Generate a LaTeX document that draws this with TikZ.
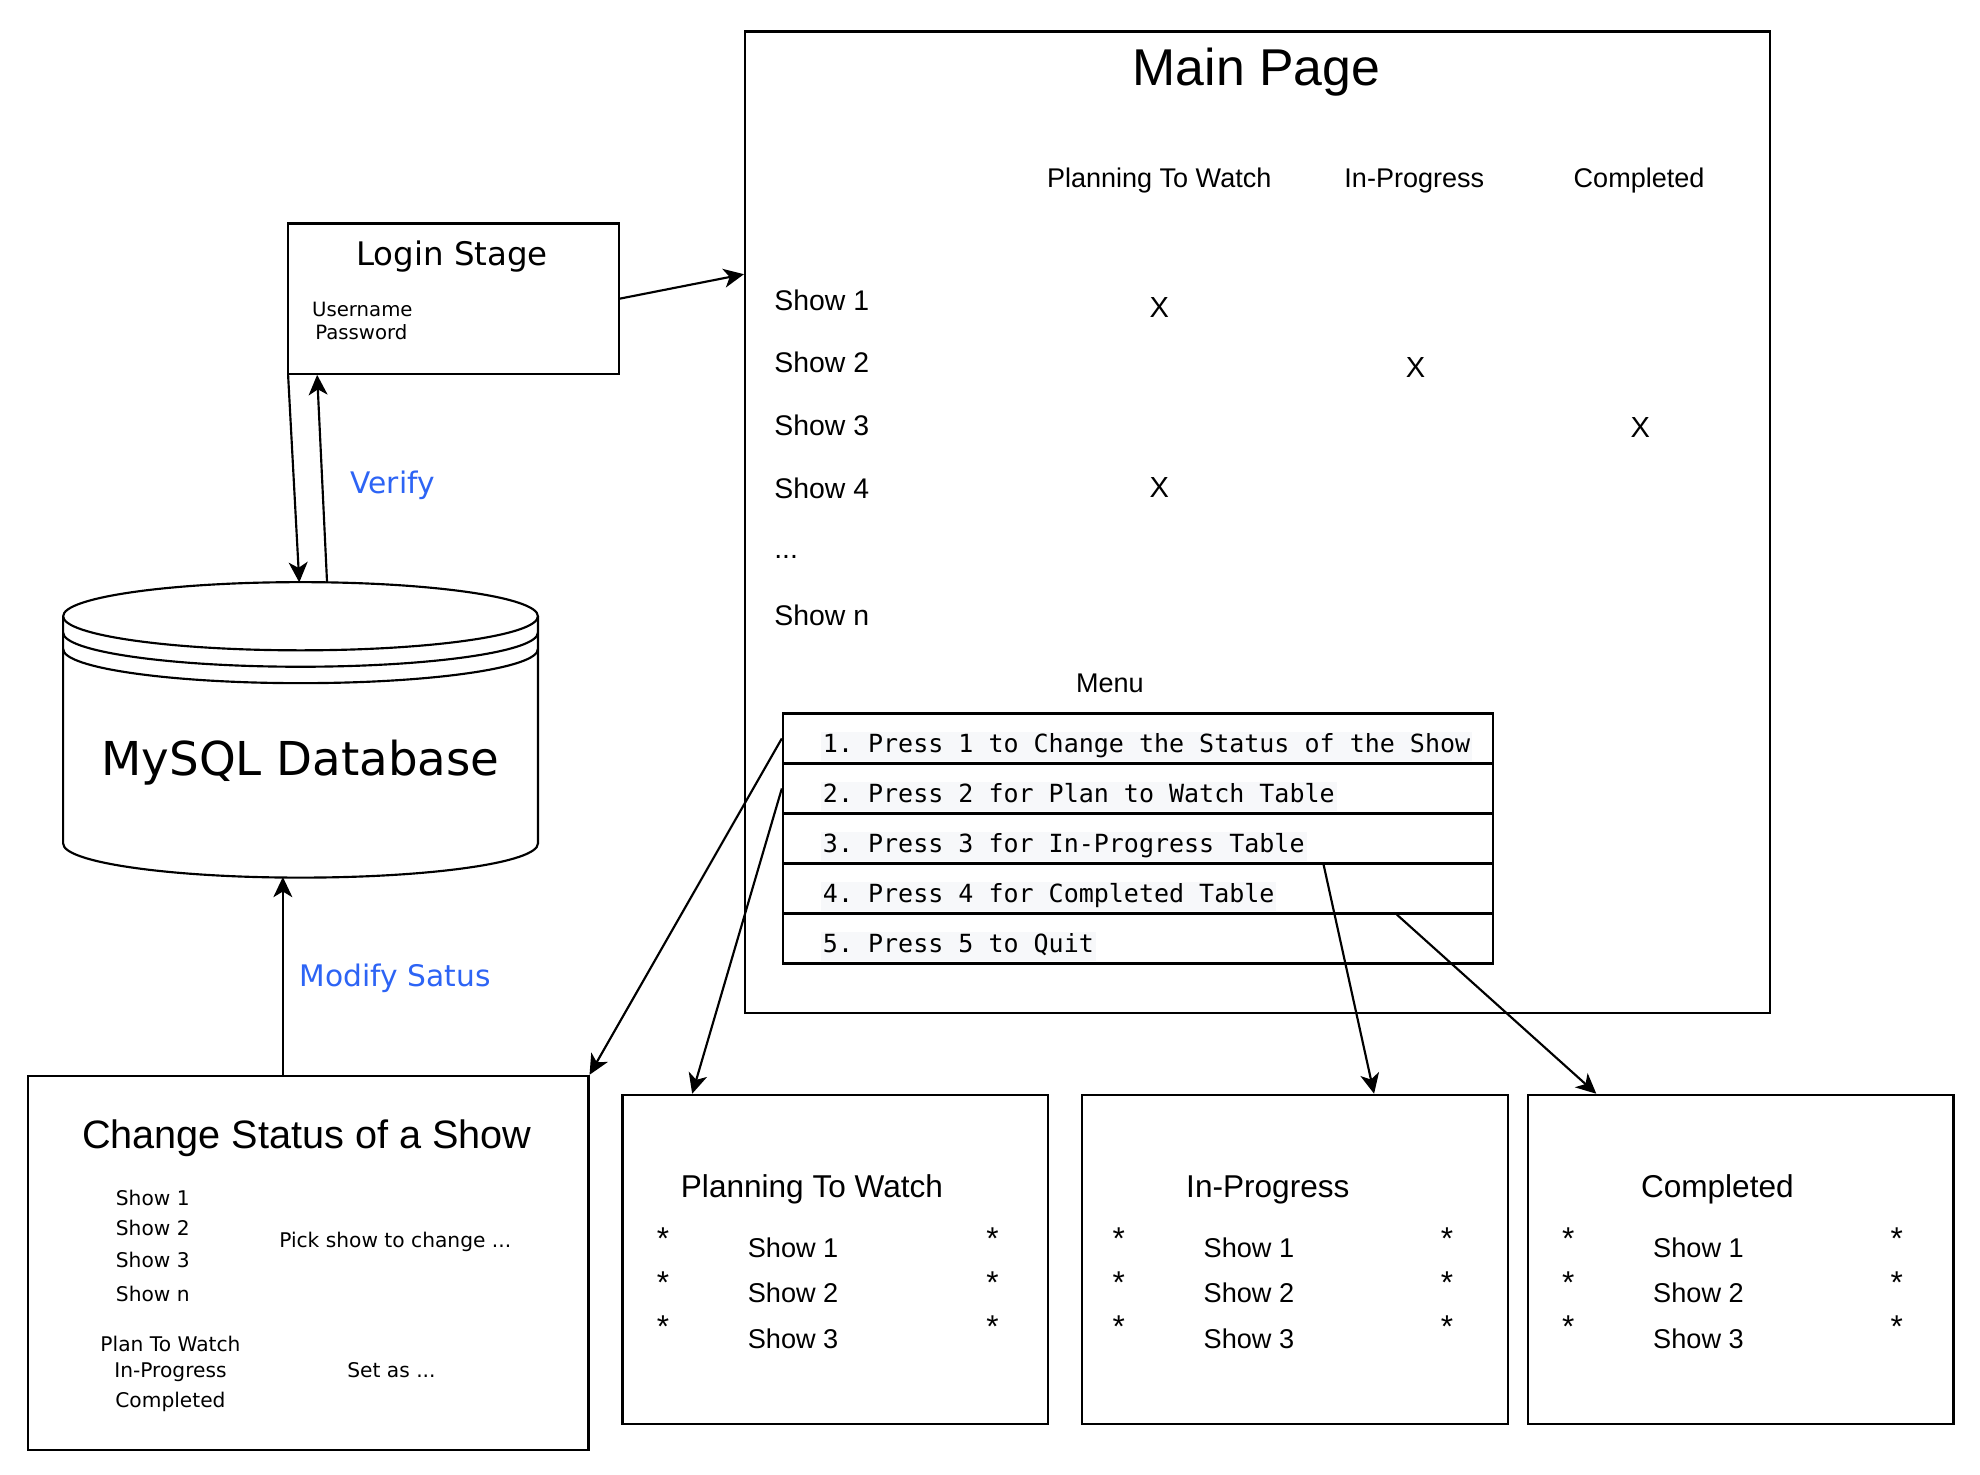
\documentclass[tikz,border=0pt]{standalone}
\usepackage{fontspec}
\setmainfont{Liberation Sans}
\newfontfamily\dvs{DejaVu Sans}
\newfontfamily\dvm{DejaVu Sans Mono}
\usetikzlibrary{arrows.meta,calc}
\definecolor{lblblue}{RGB}{45,100,245}
\definecolor{codebg}{RGB}{247,248,250}
\newcommand\myfs[1]{\fontsize{#1pt}{#1pt}\selectfont}
\begin{document}
\begin{tikzpicture}[x=1pt,y=-1pt,
  box/.style={draw,line width=1.7pt,inner sep=0pt},
  tx/.style 2 args={inner sep=0pt,text height={0.72*#2pt},text depth=0pt,font=#1\myfs{#2}},
  code/.style={anchor=base west,fill=codebg,inner sep=1.5pt,text height={0.76*19.8pt},text depth={0.24*19.8pt},font=\dvm\myfs{19.8}\frenchspacing},
  arr/.style={line width=1.7pt,-{Stealth[length=16pt,width=15pt,inset=4.5pt]}},
  dbline/.style={line width=1.7pt},
]
\useasboundingbox[fill=white] (0,0) rectangle (1568,1167.3);

% ---------- Login ----------
\node[box,minimum width=262pt,minimum height=119pt] (login) at (359,236.5) {};
\node[tx={\dvs}{25.7}] (logint) at (358,201) {Login Stage};
\node[tx={\dvs}{15.6},anchor=west] (user) at (247,245) {Username};
\node[tx={\dvs}{15.6},anchor=west] (pass) at (249.5,263.5) {Password};

% ---------- Main page ----------
\node[box,minimum width=812pt,minimum height=777pt] (main) at (996,413.5) {};
\node[tx={}{41}] (maint) at (995,53) {Main Page};
\node[tx={}{21.4}] (hptw) at (918,141) {Planning To Watch};
\node[tx={}{21.4}] (hinp) at (1120,141) {In-Progress};
\node[tx={}{21.4}] (hcmp) at (1298,141) {Completed};
\node[tx={}{22.5},anchor=west] (s1) at (613,238) {Show 1};
\node[tx={}{22.5},anchor=west] (s2) at (613,287) {Show 2};
\node[tx={}{22.5},anchor=west] (s3) at (613,337) {Show 3};
\node[tx={}{22.5},anchor=west] (s4) at (613,387) {Show 4};
\node[tx={}{22.5},anchor=west] (sdots) at (613,434) {...};
\node[tx={}{22.5},anchor=west] (sn) at (613,487) {Show n};
\node[tx={}{23}] (x1) at (918,243) {X};
\node[tx={}{23}] (x2) at (1121,290.5) {X};
\node[tx={}{23}] (x3) at (1299,338) {X};
\node[tx={}{23}] (x4) at (918,385.5) {X};
\node[tx={}{21.4}] (menul) at (879,541) {Menu};

\node[box,minimum width=562pt,minimum height=39.6pt] (m1) at (901,584.8) {};
\node[box,minimum width=562pt,minimum height=39.6pt] (m2) at (901,624.4) {};
\node[box,minimum width=562pt,minimum height=39.6pt] (m3) at (901,664.0) {};
\node[box,minimum width=562pt,minimum height=39.6pt] (m4) at (901,703.6) {};
\node[box,minimum width=562pt,minimum height=39.6pt] (m5) at (901,743.2) {};
\node[code] (c1) at (650,596) {1. Press 1 to Change the Status of the Show};
\node[code] (c2) at (650,635.6) {2. Press 2 for Plan to Watch Table};
\node[code] (c3) at (650,675.2) {3. Press 3 for In-Progress Table};
\node[code] (c4) at (650,714.8) {4. Press 4 for Completed Table};
\node[code] (c5) at (650,754.4) {5. Press 5 to Quit};

% ---------- Database ----------
\draw[dbline,fill=white] (50,488) -- (50,668)
  arc[start angle=180,end angle=360,x radius=188pt,y radius=27pt] -- (426,488);
\draw[dbline,fill=white] (238,488) ellipse[x radius=188pt,y radius=27pt];
\draw[dbline] (50,501) arc[start angle=180,end angle=360,x radius=188pt,y radius=27pt];
\draw[dbline] (50,514) arc[start angle=180,end angle=360,x radius=188pt,y radius=27pt];
\node[tx={\dvs}{37}] (db) at (238,601) {MySQL Database};
\coordinate (dbtopA) at (237,461.2);
\coordinate (dbtopB) at (259,461.2);
\coordinate (dbbot) at (224,694.5);

% ---------- Change status ----------
\node[box,minimum width=444pt,minimum height=296pt] (cs) at (244,1000) {};
\node[tx={}{31.4}] (cst) at (243,898) {Change Status of a Show};
\node[tx={\dvs}{16}] (cs1) at (121,948.6) {Show 1};
\node[tx={\dvs}{16}] (cs2) at (121,973) {Show 2};
\node[tx={\dvs}{16}] (cs3) at (121,998) {Show 3};
\node[tx={\dvs}{16}] (csn) at (121,1024.7) {Show n};
\node[tx={\dvs}{16}] (pick) at (313,982) {Pick show to change ...};
\node[tx={\dvs}{16}] (cp) at (135,1064.5) {Plan To Watch};
\node[tx={\dvs}{16}] (ci) at (135,1084.8) {In-Progress};
\node[tx={\dvs}{16}] (cc) at (135,1108.6) {Completed};
\node[tx={\dvs}{16}] (setas) at (310,1085) {Set as ...};

% ---------- Three tables ----------
\foreach \nm/\cx/\ttl/\tx/\sx/\la/\ra in {ptw/661.5/Planning To Watch/643/592/525/786,
                                        inp/1025.5/In-Progress/1004/953/886/1146,
                                        comp/1378.5/Completed/1360/1309/1242/1502}{
  \node[box,minimum width=337pt,minimum height=261pt] (\nm) at (\cx,997.5) {};
  \node[tx={}{25}] (\nm t) at (\tx,939) {\ttl};
  \node[tx={}{21.5},anchor=west] (\nm s1) at (\sx,988) {Show 1};
  \node[tx={}{21.5},anchor=west] (\nm s2) at (\sx,1024) {Show 2};
  \node[tx={}{21.5},anchor=west] (\nm s3) at (\sx,1060) {Show 3};
  \node[tx={}{25}] (\nm a1) at (\la,980.5) {*};
  \node[tx={}{25}] (\nm a2) at (\la,1015.5) {*};
  \node[tx={}{25}] (\nm a3) at (\la,1050.5) {*};
  \node[tx={}{25}] (\nm b1) at (\ra,980.5) {*};
  \node[tx={}{25}] (\nm b2) at (\ra,1015.5) {*};
  \node[tx={}{25}] (\nm b3) at (\ra,1050.5) {*};
}

% ---------- Connectors ----------
\draw[arr] (login.east) -- ($(main.north west)+(0,193)$);
\draw[arr] ($(login.south west)+(1,0)$) -- (dbtopA);
\draw[arr] (dbtopB) -- ($(login.south west)+(24,0)$);
\node[tx={\dvs}{23.5},text=lblblue] (verify) at (311,382) {Verify};
\draw[arr] ($(cs.north)+(-20,0)$) -- (dbbot);
\node[tx={\dvs}{23.5},text=lblblue] (modify) at (313,773) {Modify Satus};
\draw[arr] (m1.west) -- (cs.north east);
\draw[arr] (m2.west) -- ($(ptw.north west)+(56,0)$);
\draw[arr] ($(m3.south west)+(429,0)$) -- ($(inp.north west)+(232,0)$);
\draw[arr] ($(m4.south west)+(487,0)$) -- ($(comp.north west)+(55,0)$);
\end{tikzpicture}
\end{document}
